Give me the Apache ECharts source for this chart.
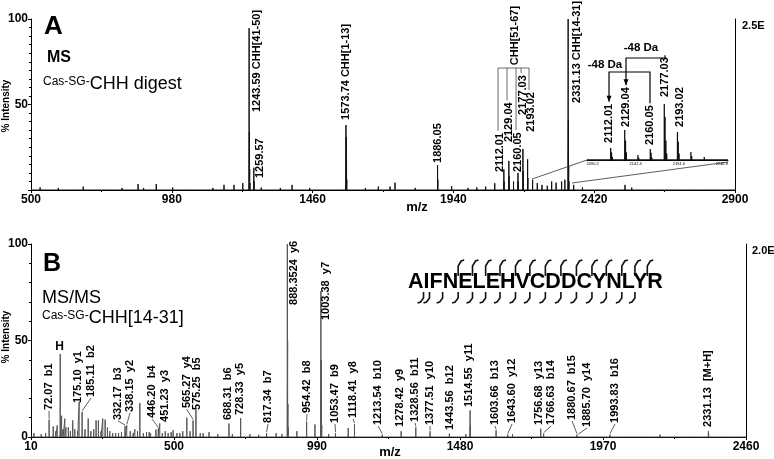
<!DOCTYPE html>
<html>
<head>
<meta charset="utf-8">
<script src="https://cdn.jsdelivr.net/npm/echarts@6/dist/echarts.min.js"></script>
<style>
  html, body { margin: 0; padding: 0; background: #fff; }
  #main { width: 774px; height: 459px; }
</style>
</head>
<body>
<div id="main"></div>
<script>
// ---------- panel A : MS of the Cas-SG-CHH digest, [m/z, % intensity] ----------
const ticksA = [500, 980, 1460, 1940, 2420, 2900];
const peaksA = [
  [531, 1.5], [560, 1], [593, 1.2], [620, 0.8], [650, 1], [678, 2], [700, 0.8], [740, 1],
  [780, 0.8], [810, 1.2], [840, 1], [865, 3.5], [884, 1.2], [927, 3.5], [983, 1.5], [1010, 1],
  [1050, 0.8], [1090, 1], [1120, 1.2], [1158, 3], [1192, 3], [1222, 4],
  [1243.59, 94.7], [1244.59, 34], [1245.59, 12], [1246.6, 4], [1259.57, 13], [1260.57, 5],
  [1285, 1.4], [1320, 1], [1350, 1.2], [1390, 3], [1420, 1], [1450, 1.2], [1490, 1], [1530, 1],
  [1573.74, 38], [1574.74, 31], [1575.74, 16.5], [1576.74, 6],
  [1610, 1], [1640, 1.2], [1684, 2], [1724, 2], [1741, 4.3], [1780, 1], [1810, 1.2], [1850, 1],
  [1886.05, 14.6], [1887.05, 6], [1934, 2.3], [1960, 1], [1990, 1.2], [2020, 1.5], [2050, 2], [2081, 4],
  [2112.01, 12], [2113.01, 5], [2129.04, 17], [2130.04, 8], [2145, 5], [2160.05, 10], [2161.05, 5],
  [2177.03, 24], [2178.03, 11], [2193.02, 18], [2194.02, 7], [2210, 6], [2226, 4], [2242, 3],
  [2260, 2.5], [2275, 5], [2290, 4.3], [2309, 5], [2320, 6],
  [2331.13, 100], [2332.13, 41], [2333.13, 14], [2334.13, 5],
  [2350, 3], [2380, 1.5], [2410, 1], [2440, 1], [2480, 0.8], [2525, 3], [2548, 1.4], [2580, 0.8],
  [2620, 0.6], [2680, 0.8], [2720, 0.5], [2780, 0.6], [2850, 0.5]
];
const annA = [
  [1243.59, '1243.59 CHH[41-50]'], [1259.57, '1259.57'], [1573.74, '1573.74 CHH[1-13]'],
  [1886.05, '1886.05'], [2112.01, '2112.01'], [2129.04, '2129.04'], [2160.05, '2160.05'],
  [2177.03, '2177.03'], [2193.02, '2193.02'], [2331.13, '2331.13 CHH[14-31]']
];
// label foot (bottom centre) of each annotation, in [m/z, %]
const annA_at = [
  [1270.5, 45.6], [1280.8, 7], [1574, 41], [1887.7, 15.8], [2099, 10.5], [2129.7, 28],
  [2160.4, 10.5], [2177.5, 43.9], [2204.7, 34], [2361.6, 50.9]
];
const clusterA = [4, 5, 6, 7, 8];

// ---------- inset of panel A (2085 - 2255) ----------
const insetRange = [2083.3, 2254.3];
const insetTickMz = [2090.2, 2142.4, 2194.6, 2246.8];
const peaksIn = [
  [2086, 3], [2095, 1.5], [2103, 1.5], [2112.01, 18.5], [2113, 12], [2114, 5], [2121, 2],
  [2129.04, 46], [2130, 30], [2131, 12], [2145, 7.7], [2146, 4], [2160.05, 17], [2161, 11], [2162, 4],
  [2168, 2], [2177.03, 86], [2178, 66], [2179, 30], [2180, 10], [2186, 3], [2193.02, 43], [2194, 28],
  [2195, 10], [2209.3, 12.3], [2210.3, 6], [2220, 3], [2225.5, 4.6], [2232, 2], [2240, 2.3], [2248, 1.5]
];
const annIn = [[2112.01, '2112.01'], [2129.04, '2129.04'], [2160.05, '2160.05'], [2177.03, '2177.03'], [2193.02, '2193.02']];
const annIn_at = [[2110, 26.2], [2130.6, 50.8], [2159.7, 23.1], [2177.9, 96.9], [2196.1, 50.8]];

// ---------- panel B : MS/MS of Cas-SG-CHH[14-31] ----------
const ticksB = [10, 500, 990, 1480, 1970, 2460];
const peaksB = [
  [20, 2], [30, 1], [45, 1.5], [60, 2], [72.07, 9], [86.1, 5.5], [95, 3], [100, 6], [110.07, 43],
  [115, 11], [120, 4], [126, 9.5], [130, 5], [138, 5], [145, 3], [153, 8.6], [160, 4], [170, 3],
  [175.10, 18.3], [185.11, 13], [195, 4], [206, 9.5], [215, 3], [225, 4], [233, 8.6], [241, 8.6],
  [250, 3], [256, 9.5], [264, 9], [272, 5], [280, 3], [290, 2], [300, 2], [310, 2], [320, 2.5],
  [332.17, 5.7], [338.15, 6], [350, 3], [360, 2], [366, 4], [375, 3], [383, 17.6], [395, 2],
  [406, 2.6], [415, 2.5], [420, 2], [438, 3.8], [446.20, 4.5], [451.23, 7], [460, 2], [470, 3],
  [480, 2], [490, 2.5], [497, 3.5], [510, 2], [520, 2], [530, 3], [544, 10], [555, 3],
  [565.27, 8.6], [575.25, 14], [590, 2], [600, 2], [620, 2.5], [650, 1.5], [688.31, 7], [700, 1.5],
  [728.33, 9.8], [760, 1.5], [790, 1.2], [817.34, 2], [850, 2], [870, 1.5],
  [888.35, 100], [889.35, 50], [890.35, 17], [891.35, 5], [921, 3], [954.42, 8], [983, 6.5],
  [1003.38, 75.6], [1004.38, 40], [1005.38, 22], [1006.38, 6], [1030, 1.5], [1053.47, 2], [1097, 4.7],
  [1118.41, 6.7], [1150, 1], [1180, 1], [1213.54, 1.2], [1240, 0.8], [1278.42, 3], [1300, 0.8],
  [1328.56, 5], [1350, 0.8], [1377.51, 3], [1410, 0.8], [1443.56, 1.7], [1470, 1], [1500, 1.5],
  [1514.55, 13.8], [1515.55, 6], [1540, 0.8], [1570, 0.8], [1603.66, 3.5], [1620, 0.6], [1643.60, 1.2],
  [1660, 1.5], [1690, 0.8], [1720, 0.6], [1756.68, 4.3], [1766.63, 1.7], [1800, 0.6], [1850, 0.5],
  [1880.67, 1.2], [1885.70, 1], [1920, 0.5], [1960, 0.5], [1993.83, 1.2], [2030, 0.5], [2080, 0.4],
  [2150, 1], [2165, 1.2], [2180, 0.8], [2240, 1], [2300, 0.4], [2331.13, 3], [2332.13, 1.5], [2400, 0.3]
];
const annB = [
  [72.07, '72.07  b1'], [110.07, 'H'], [175.10, '175.10  y1'], [185.11, '185.11  b2'],
  [332.17, '332.17  b3'], [338.15, '338.15  y2'], [446.20, '446.20  b4'], [451.23, '451.23  y3'],
  [565.27, '565.27  y4'], [575.25, '575.25  b5'], [688.31, '688.31  b6'], [728.33, '728.33  y5'],
  [817.34, '817.34  b7'], [888.35, '888.3524  y6'], [954.42, '954.42  b8'], [1003.38, '1003.38  y7'],
  [1053.47, '1053.47  b9'], [1118.41, '1118.41  y8'], [1213.54, '1213.54  b10'], [1278.42, '1278.42  y9'],
  [1328.56, '1328.56  b11'], [1377.51, '1377.51  y10'], [1443.56, '1443.56  b12'], [1514.55, '1514.55  y11'],
  [1603.66, '1603.66  b13'], [1643.60, '1643.60  y12'], [1756.68, '1756.68  y13'], [1766.63, '1766.63  b14'],
  [1880.67, '1880.67  b15'], [1885.70, '1885.70  y14'], [1993.83, '1993.83  b16'], [2331.13, '2331.13  [M+H]']
];
const annB_at = [
  [71.7, 14.0], [107.7, 44.0], [171.1, 17.6], [215.6, 20.7], [308.2, 8.8], [349.3, 13.0],
  [424.7, 9.8], [469.2, 7.8], [543, 15.0], [580, 14.0], [685.1, 8.8], [726.2, 11.4],
  [822.2, 7.3], [911.3, 68.4], [955.9, 12.4], [1021, 60.6], [1051.8, 7.3], [1113.5, 9.8],
  [1199.2, 6.2], [1274.6, 5.2], [1326, 7.8], [1377.4, 6.2], [1445.9, 3.6], [1511, 15.5],
  [1600.1, 6.2], [1658.4, 7.3], [1751, 6.2], [1792, 6.2], [1864, 8.8], [1915.4, 5.2],
  [2011.4, 7.3], [2330.1, 5.2]
];
const peptide = 'AIFNELEHVCDDCYNLYR';
const bIons = [1, 2, 3, 4, 5, 6, 7, 8, 9, 10, 11, 12, 13, 14, 15, 16];
const yIons = [1, 2, 3, 4, 5, 6, 7, 8, 9, 10, 11, 12, 13, 14];

const F = 'Liberation Sans';

function sticks(peaks, lo, hi) {
  const s = peaks.slice().sort((a, b) => a[0] - b[0]);
  const out = [[lo, 0]];
  s.forEach(p => { out.push([p[0], 0], [p[0], p[1]], [p[0], 0]); });
  out.push([hi, 0]);
  return out;
}
function heightOf(peaks, mz) {
  const p = peaks.find(q => Math.abs(q[0] - mz) < 0.01);
  return p ? p[1] : 0;
}

const tickLabel = { color: '#000', fontFamily: F, fontWeight: 'bold', fontSize: 12, formatter: v => String(v) };
function xAx(grid, ticks) {
  return {
    gridIndex: grid, type: 'value', min: ticks[0], max: ticks[ticks.length - 1], interval: ticks[1] - ticks[0],
    axisLine: { onZero: false, lineStyle: { color: '#000' } },
    axisTick: { length: 3, lineStyle: { color: '#000' } },
    minorTick: { show: true, splitNumber: 2, length: 2, lineStyle: { color: '#000' } },
    splitLine: { show: false },
    axisLabel: Object.assign({ margin: 4 }, tickLabel)
  };
}
function yAx(grid, minor, showZero) {
  return {
    gridIndex: grid, type: 'value', min: 0, max: 100, interval: 50,
    axisLine: { show: true, onZero: false, lineStyle: { color: '#000' } },
    axisTick: { length: 3, lineStyle: { color: '#000' } },
    minorTick: { show: true, splitNumber: minor, length: 2, lineStyle: { color: '#000' } },
    splitLine: { show: false },
    axisLabel: Object.assign({ margin: 3, showMinLabel: showZero }, tickLabel)
  };
}
function rightAx(grid) {
  return {
    gridIndex: grid, type: 'value', position: 'right', min: 0, max: 100,
    axisLine: { show: true, onZero: false, lineStyle: { color: '#000' } },
    axisTick: { show: false }, axisLabel: { show: false }, splitLine: { show: false }
  };
}

const option = {
  animation: false,
  backgroundColor: '#fff',
  grid: [
    { left: 31, top: 19, width: 704, height: 171 },
    { left: 31, top: 244, width: 715, height: 193 },
    { left: 587, top: 95, width: 141, height: 65 }
  ],
  xAxis: [
    xAx(0, ticksA),
    xAx(1, ticksB),
    {
      gridIndex: 2, type: 'value', min: insetRange[0], max: insetRange[1],
      axisLine: { onZero: false, lineStyle: { color: '#000', width: 1 } },
      axisTick: { show: false }, axisLabel: { show: false }, splitLine: { show: false }
    }
  ],
  yAxis: [
    yAx(0, 10, false), rightAx(0),
    yAx(1, 5, true), rightAx(1),
    { gridIndex: 2, type: 'value', min: 0, max: 100, show: false }
  ],
  series: [
    {
      type: 'line', xAxisIndex: 0, yAxisIndex: 0, data: sticks(peaksA, ticksA[0], ticksA[5]),
      symbol: 'none', silent: true, lineStyle: { color: '#111', width: 1 }
    },
    {
      type: 'line', xAxisIndex: 1, yAxisIndex: 2, data: sticks(peaksB, ticksB[0], ticksB[5]),
      symbol: 'none', silent: true, lineStyle: { color: '#555', width: 1 }
    },
    {
      type: 'line', xAxisIndex: 2, yAxisIndex: 4, data: sticks(peaksIn, insetRange[0], insetRange[1]),
      symbol: 'none', silent: true, lineStyle: { color: '#111', width: 1.3 }
    }
  ]
};

const chart = echarts.init(document.getElementById('main'));
chart.setOption(option);

// ---------- annotations ----------
const ctx = document.createElement('canvas').getContext('2d');
function tw(t, size, bold) {
  ctx.font = (bold ? 'bold ' : '') + size + 'px "' + F + '"';
  return ctx.measureText(t).width;
}
const G = [];
function txt(x, y, t, size, bold, rot, align) {
  G.push({
    type: 'text', x: x, y: y, rotation: rot || 0, z: 50, silent: true,
    style: { text: t, fontFamily: F, fontSize: size, fontWeight: bold ? 'bold' : 'normal', fill: '#000',
      align: align || 'left', verticalAlign: 'middle' }
  });
}
function line(pts, w, c) {
  G.push({ type: 'polyline', z: 40, silent: true, shape: { points: pts },
    style: { stroke: c || '#000', lineWidth: w || 1, fill: null } });
}
function arrowDown(x, y) {
  G.push({ type: 'polygon', z: 40, silent: true, shape: { points: [[x - 2.5, y - 6], [x + 2.5, y - 6], [x, y]] },
    style: { fill: '#000' } });
}
const fA = { xAxisIndex: 0, yAxisIndex: 0 };
const fB = { xAxisIndex: 1, yAxisIndex: 2 };
const fI = { xAxisIndex: 2, yAxisIndex: 4 };
const P = (f, pt) => chart.convertToPixel(f, pt);

// vertical peak labels, with a leader line when the label is pushed away from its peak
function peakLabels(f, peaks, ann, at, leaders) {
  return ann.map((a, i) => {
    const top = P(f, [a[0], heightOf(peaks, a[0])]);
    const foot = P(f, at[i]);
    if (a[1] === 'H') {
      txt(foot[0], foot[1] - 5, 'H', 12, true, 0, 'center');
      return { x: foot[0], foot: foot[1], top: foot[1] - 10 };
    }
    txt(foot[0], foot[1], a[1], 11, true, Math.PI / 2, 'left');
    if (leaders && top[1] > foot[1] + 3 && Math.hypot(top[0] - foot[0], top[1] - foot[1]) > 5) {
      line([[top[0], top[1] - 1], [foot[0], foot[1] + 1]], 0.8, '#333');
    }
    return { x: foot[0], foot: foot[1], top: foot[1] - tw(a[1], 11, true) };
  });
}

const labA = peakLabels(fA, peaksA, annA, annA_at, false);
peakLabels(fB, peaksB, annB, annB_at, true);
const labIn = peakLabels(fI, peaksIn, annIn, annIn_at, false);

// CHH[51-67] bracket over the 2112-2193 cluster
const brY = 68;
const brX = clusterA.map(i => labA[i].x - 2);
line([[Math.min(...brX), brY], [Math.max(...brX), brY]], 0.8, '#444');
clusterA.forEach((i, k) => line([[brX[k], brY], [brX[k], labA[i].top - 2]], 0.8, '#444'));
const chhFoot = P(fA, [2150, 73]);
txt(chhFoot[0], chhFoot[1], 'CHH[51-67]', 11, true, Math.PI / 2, 'left');

// -48 Da arrows in the inset
function shift(iFrom, iTo, y, label, lx, ly) {
  const a = labIn[iFrom], b = labIn[iTo];
  line([[a.x, a.top - 2], [a.x, y], [b.x, y], [b.x, b.top - 2]], 1.2);
  arrowDown(a.x, a.top - 2);
  txt(lx, ly, label, 11.5, true, 0, 'center');
}
shift(0, 2, 72, '-48 Da', 605, 65);
shift(1, 3, 58, '-48 Da', 641, 48);

// inset axis labels and zoom connectors
insetTickMz.forEach(m => {
  const p = P(fI, [m, 0]);
  txt(p[0], p[1] + 4, m.toFixed(1), 4, false, 0, 'center');
});
const inL = P(fI, [insetRange[0], 0]), inR = P(fI, [insetRange[1], 0]);
line([inL, P(fA, [2208, 6.4])], 0.8, '#333');
line([[inR[0], inR[1] + 2], P(fA, [2344.5, 4.1])], 0.8, '#333');

// peptide with fragment marks
const pepX = 408, pepY = 282, pepSize = 21.5;
txt(pepX, pepY, peptide, pepSize, true, 0, 'left');
const cut = k => pepX + tw(peptide.slice(0, k), pepSize, true);
bIons.forEach(k => {
  const x = cut(k);
  line([[x, 292], [x, 298], [x - 3, 302], [x - 6, 303]], 1.6, '#111');
});
yIons.forEach(k => {
  const x = cut(peptide.length - k);
  line([[x, 276], [x, 266], [x + 3, 261], [x + 6, 260]], 1.6, '#111');
});

// panel titles and axis names
txt(44, 27, 'A', 26, true);
txt(47, 58, 'MS', 16, true);
txt(43, 81.5, 'Cas-SG-', 12, false);
txt(43 + tw('Cas-SG-', 12, false), 84, 'CHH digest', 18, false);
txt(43, 264, 'B', 25, true);
txt(42, 298, 'MS/MS', 18, false);
txt(42, 316, 'Cas-SG-', 12, false);
txt(42 + tw('Cas-SG-', 12, false), 318, 'CHH[14-31]', 18, false);
txt(742, 26, '2.5E', 11, true);
txt(752, 251, '2.0E', 11, true);
txt(6, 106, '% Intensity', 10, true, Math.PI / 2, 'center');
txt(6, 337, '% Intensity', 10, true, Math.PI / 2, 'center');
txt(417, 207, 'm/z', 13, true, 0, 'center');
txt(390, 452, 'm/z', 13, true, 0, 'center');

chart.setOption({ graphic: { elements: G } });
</script>
</body>
</html>
